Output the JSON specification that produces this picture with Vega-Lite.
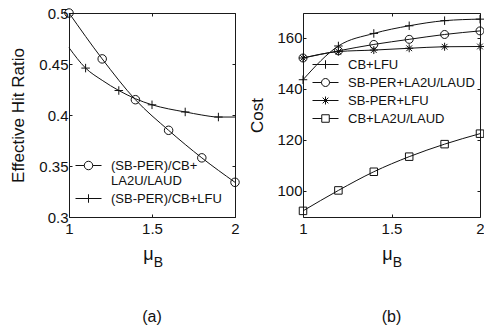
{
  "$schema": "https://vega.github.io/schema/vega-lite/v6.json",
  "padding": {"left": 8, "top": 5, "right": 0, "bottom": 5},
  "spacing": 4,
  "config": {
    "font": "Liberation Sans",
    "view": {"stroke": "#1a1a1a", "strokeWidth": 1},
    "axis": {
      "domain": false,
      "grid": false,
      "tickSize": -3,
      "tickColor": "#1a1a1a",
      "labelFont": "Liberation Sans",
      "labelFontSize": 15,
      "labelColor": "#111",
      "labelFlush": false,
      "labelOverlap": false,
      "titleFont": "Liberation Sans",
      "titleFontSize": 17,
      "titleFontWeight": "normal",
      "titleColor": "#111"
    },
    "axisX": {"labelPadding": 7},
    "axisY": {"labelPadding": 4},
    "legend": {
      "orient": "none",
      "padding": 0,
      "labelFont": "Liberation Sans",
      "labelFontSize": 13,
      "labelColor": "#111",
      "labelOffset": 16,
      "symbolSize": 100,
      "symbolStrokeWidth": 1,
      "symbolStrokeColor": "#111",
      "symbolFillColor": "transparent",
      "symbolOpacity": 1,
      "rowPadding": 4
    },
    "title": {"font": "Liberation Sans", "fontSize": 16, "fontWeight": "normal", "color": "#111", "orient": "bottom"}
  },
  "datasets": {
    "hit": [
      {"mu": 1.0, "ratio": 0.500, "series": "(SB-PER)/CB+LA2U/LAUD"},
      {"mu": 1.2, "ratio": 0.455, "series": "(SB-PER)/CB+LA2U/LAUD"},
      {"mu": 1.4, "ratio": 0.415, "series": "(SB-PER)/CB+LA2U/LAUD"},
      {"mu": 1.6, "ratio": 0.385, "series": "(SB-PER)/CB+LA2U/LAUD"},
      {"mu": 1.8, "ratio": 0.358, "series": "(SB-PER)/CB+LA2U/LAUD"},
      {"mu": 2.0, "ratio": 0.334, "series": "(SB-PER)/CB+LA2U/LAUD"},
      {"mu": 1.0, "ratio": 0.466, "series": "(SB-PER)/CB+LFU"},
      {"mu": 1.1, "ratio": 0.446, "series": "(SB-PER)/CB+LFU"},
      {"mu": 1.2, "ratio": 0.434, "series": "(SB-PER)/CB+LFU"},
      {"mu": 1.3, "ratio": 0.424, "series": "(SB-PER)/CB+LFU"},
      {"mu": 1.4, "ratio": 0.416, "series": "(SB-PER)/CB+LFU"},
      {"mu": 1.5, "ratio": 0.410, "series": "(SB-PER)/CB+LFU"},
      {"mu": 1.6, "ratio": 0.406, "series": "(SB-PER)/CB+LFU"},
      {"mu": 1.7, "ratio": 0.403, "series": "(SB-PER)/CB+LFU"},
      {"mu": 1.8, "ratio": 0.400, "series": "(SB-PER)/CB+LFU"},
      {"mu": 1.9, "ratio": 0.398, "series": "(SB-PER)/CB+LFU"},
      {"mu": 2.0, "ratio": 0.398, "series": "(SB-PER)/CB+LFU"}
    ],
    "cost": [
      {"mu": 1.0, "cost": 143.5, "series": "CB+LFU"},
      {"mu": 1.2, "cost": 156.7, "series": "CB+LFU"},
      {"mu": 1.4, "cost": 161.6, "series": "CB+LFU"},
      {"mu": 1.6, "cost": 164.6, "series": "CB+LFU"},
      {"mu": 1.8, "cost": 166.6, "series": "CB+LFU"},
      {"mu": 2.0, "cost": 167.2, "series": "CB+LFU"},
      {"mu": 1.0, "cost": 152.0, "series": "SB-PER+LA2U/LAUD"},
      {"mu": 1.2, "cost": 154.8, "series": "SB-PER+LA2U/LAUD"},
      {"mu": 1.4, "cost": 157.3, "series": "SB-PER+LA2U/LAUD"},
      {"mu": 1.6, "cost": 159.3, "series": "SB-PER+LA2U/LAUD"},
      {"mu": 1.8, "cost": 161.2, "series": "SB-PER+LA2U/LAUD"},
      {"mu": 2.0, "cost": 162.6, "series": "SB-PER+LA2U/LAUD"},
      {"mu": 1.0, "cost": 152.0, "series": "SB-PER+LFU"},
      {"mu": 1.2, "cost": 154.5, "series": "SB-PER+LFU"},
      {"mu": 1.4, "cost": 155.1, "series": "SB-PER+LFU"},
      {"mu": 1.6, "cost": 155.8, "series": "SB-PER+LFU"},
      {"mu": 1.8, "cost": 156.4, "series": "SB-PER+LFU"},
      {"mu": 2.0, "cost": 156.5, "series": "SB-PER+LFU"},
      {"mu": 1.0, "cost": 92.2, "series": "CB+LA2U/LAUD"},
      {"mu": 1.2, "cost": 100.2, "series": "CB+LA2U/LAUD"},
      {"mu": 1.4, "cost": 107.5, "series": "CB+LA2U/LAUD"},
      {"mu": 1.6, "cost": 113.4, "series": "CB+LA2U/LAUD"},
      {"mu": 1.8, "cost": 118.3, "series": "CB+LA2U/LAUD"},
      {"mu": 2.0, "cost": 122.4, "series": "CB+LA2U/LAUD"}
    ]
  },
  "resolve": {"scale": {"shape": "independent"}, "legend": {"shape": "independent"}},
  "hconcat": [
    {
      "width": 166,
      "height": 204,
      "title": {"text": "(a)", "offset": 40},
      "data": {"name": "hit"},
      "layer": [
        {
          "mark": {"type": "line", "interpolate": "monotone", "color": "#111", "strokeWidth": 1},
          "encoding": {
            "x": {"field": "mu", "type": "quantitative", "scale": {"domain": [1, 2], "nice": false},
                  "axis": {"values": [1, 1.5, 2], "format": "~g", "title": "μ", "titleX": 79, "titleY": 37, "titleAlign": "center", "titleBaseline": "middle", "titleFontSize": 18}},
            "y": {"field": "ratio", "type": "quantitative", "scale": {"domain": [0.3, 0.5], "nice": false, "zero": false},
                  "axis": {"values": [0.3, 0.35, 0.4, 0.45, 0.5], "format": "~g", "title": "Effective Hit Ratio", "titleX": -51, "titleY": 102, "titleAlign": "center", "titleBaseline": "middle", "titleAngle": -90}},
            "detail": {"field": "series"}
          }
        },
        {
          "transform": [{"filter": "datum.series === '(SB-PER)/CB+LA2U/LAUD' || round(datum.mu * 10) % 2 === 1"}],
          "mark": {"type": "point", "filled": false, "color": "#111", "strokeWidth": 1, "size": 100, "opacity": 1},
          "encoding": {
            "x": {"field": "mu", "type": "quantitative", "axis": {"orient": "top", "values": [1, 1.5, 2], "labels": false, "title": null}},
            "y": {"field": "ratio", "type": "quantitative", "axis": {"orient": "right", "values": [0.3, 0.35, 0.4, 0.45, 0.5], "labels": false, "title": null}},
            "shape": {
              "field": "series", "type": "nominal", "legend": null,
              "scale": {
                "domain": ["(SB-PER)/CB+LA2U/LAUD", "(SB-PER)/CB+LFU"],
                "range": ["M0.85,0A0.85,0.85,0,1,1,-0.85,0A0.85,0.85,0,1,1,0.85,0Z", "M-0.85,0H0.85M0,-0.85V0.85"]
              }
            }
          }
        },
        {
          "mark": {"type": "point", "filled": false, "color": "#111", "opacity": 0},
          "encoding": {
            "x": {"field": "mu", "type": "quantitative",
                  "axis": {"orient": "bottom", "labels": false, "ticks": false, "title": "B", "titleX": 89, "titleY": 45, "titleAlign": "center", "titleBaseline": "middle", "titleFontSize": 14}},
            "y": {"field": "ratio", "type": "quantitative", "axis": null},
            "shape": {
              "field": "series", "type": "nominal",
              "scale": {
                "domain": ["(SB-PER)/CB+LA2U/LAUD", "(SB-PER)/CB+LFU"],
                "range": ["M-2.6,0H-0.85M0.85,0H2.6M0.85,0A0.85,0.85,0,1,1,-0.85,0A0.85,0.85,0,1,1,0.85,0Z", "M-2.6,0H2.6M0,-0.85V0.85"]
              },
              "legend": {
                "title": null,
                "legendX": 13,
                "legendY": 146,
                "labelExpr": "datum.label === '(SB-PER)/CB+LA2U/LAUD' ? ['(SB-PER)/CB+', 'LA2U/LAUD'] : datum.label"
              }
            }
          }
        }
      ],
      "resolve": {"axis": {"x": "independent", "y": "independent"}, "scale": {"shape": "independent"}}
    },
    {
      "width": 177,
      "height": 204,
      "title": {"text": "(b)", "offset": 40},
      "data": {"name": "cost"},
      "layer": [
        {
          "mark": {"type": "line", "interpolate": "monotone", "color": "#111", "strokeWidth": 1},
          "encoding": {
            "x": {"field": "mu", "type": "quantitative", "scale": {"domain": [1, 2], "nice": false},
                  "axis": {"values": [1, 1.5, 2], "format": "~g", "title": "μ", "titleX": 84, "titleY": 37, "titleAlign": "center", "titleBaseline": "middle", "titleFontSize": 18}},
            "y": {"field": "cost", "type": "quantitative", "scale": {"domain": [89.8, 169.6], "nice": false, "zero": false},
                  "axis": {"values": [100, 120, 140, 160], "title": "Cost", "titleX": -46, "titleY": 102, "titleAlign": "center", "titleBaseline": "middle", "titleAngle": -90}},
            "detail": {"field": "series"}
          }
        },
        {
          "mark": {"type": "point", "filled": false, "color": "#111", "strokeWidth": 1, "size": 100, "opacity": 1},
          "encoding": {
            "x": {"field": "mu", "type": "quantitative", "axis": {"orient": "top", "values": [1, 1.5, 2], "labels": false, "title": null}},
            "y": {"field": "cost", "type": "quantitative", "axis": {"orient": "right", "values": [100, 120, 140, 160], "labels": false, "title": null}},
            "shape": {
              "field": "series", "type": "nominal", "legend": null,
              "scale": {
                "domain": ["CB+LFU", "SB-PER+LA2U/LAUD", "SB-PER+LFU", "CB+LA2U/LAUD"],
                "range": [
                  "M-0.85,0H0.85M0,-0.85V0.85",
                  "M0.8,0A0.8,0.8,0,1,1,-0.8,0A0.8,0.8,0,1,1,0.8,0Z",
                  "M-0.8,0H0.8M0,-0.8V0.8M-0.57,-0.57L0.57,0.57M-0.57,0.57L0.57,-0.57",
                  "M-0.75,-0.75H0.75V0.75H-0.75Z"
                ]
              }
            }
          }
        },
        {
          "mark": {"type": "point", "filled": false, "color": "#111", "opacity": 0},
          "encoding": {
            "x": {"field": "mu", "type": "quantitative",
                  "axis": {"orient": "bottom", "labels": false, "ticks": false, "title": "B", "titleX": 94, "titleY": 45, "titleAlign": "center", "titleBaseline": "middle", "titleFontSize": 14}},
            "y": {"field": "cost", "type": "quantitative", "axis": null},
            "shape": {
              "field": "series", "type": "nominal",
              "scale": {
                "domain": ["CB+LFU", "SB-PER+LA2U/LAUD", "SB-PER+LFU", "CB+LA2U/LAUD"],
                "range": [
                  "M-2.6,0H2.6M0,-0.85V0.85",
                  "M-2.6,0H-0.8M0.8,0H2.6M0.8,0A0.8,0.8,0,1,1,-0.8,0A0.8,0.8,0,1,1,0.8,0Z",
                  "M-2.6,0H2.6M0,-0.8V0.8M-0.57,-0.57L0.57,0.57M-0.57,0.57L0.57,-0.57",
                  "M-2.6,0H-0.75M0.75,0H2.6M-0.75,-0.75H0.75V0.75H-0.75Z"
                ]
              },
              "legend": {"title": null, "legendX": 16, "legendY": 45}
            }
          }
        }
      ],
      "resolve": {"axis": {"x": "independent", "y": "independent"}, "scale": {"shape": "independent"}}
    }
  ]
}
